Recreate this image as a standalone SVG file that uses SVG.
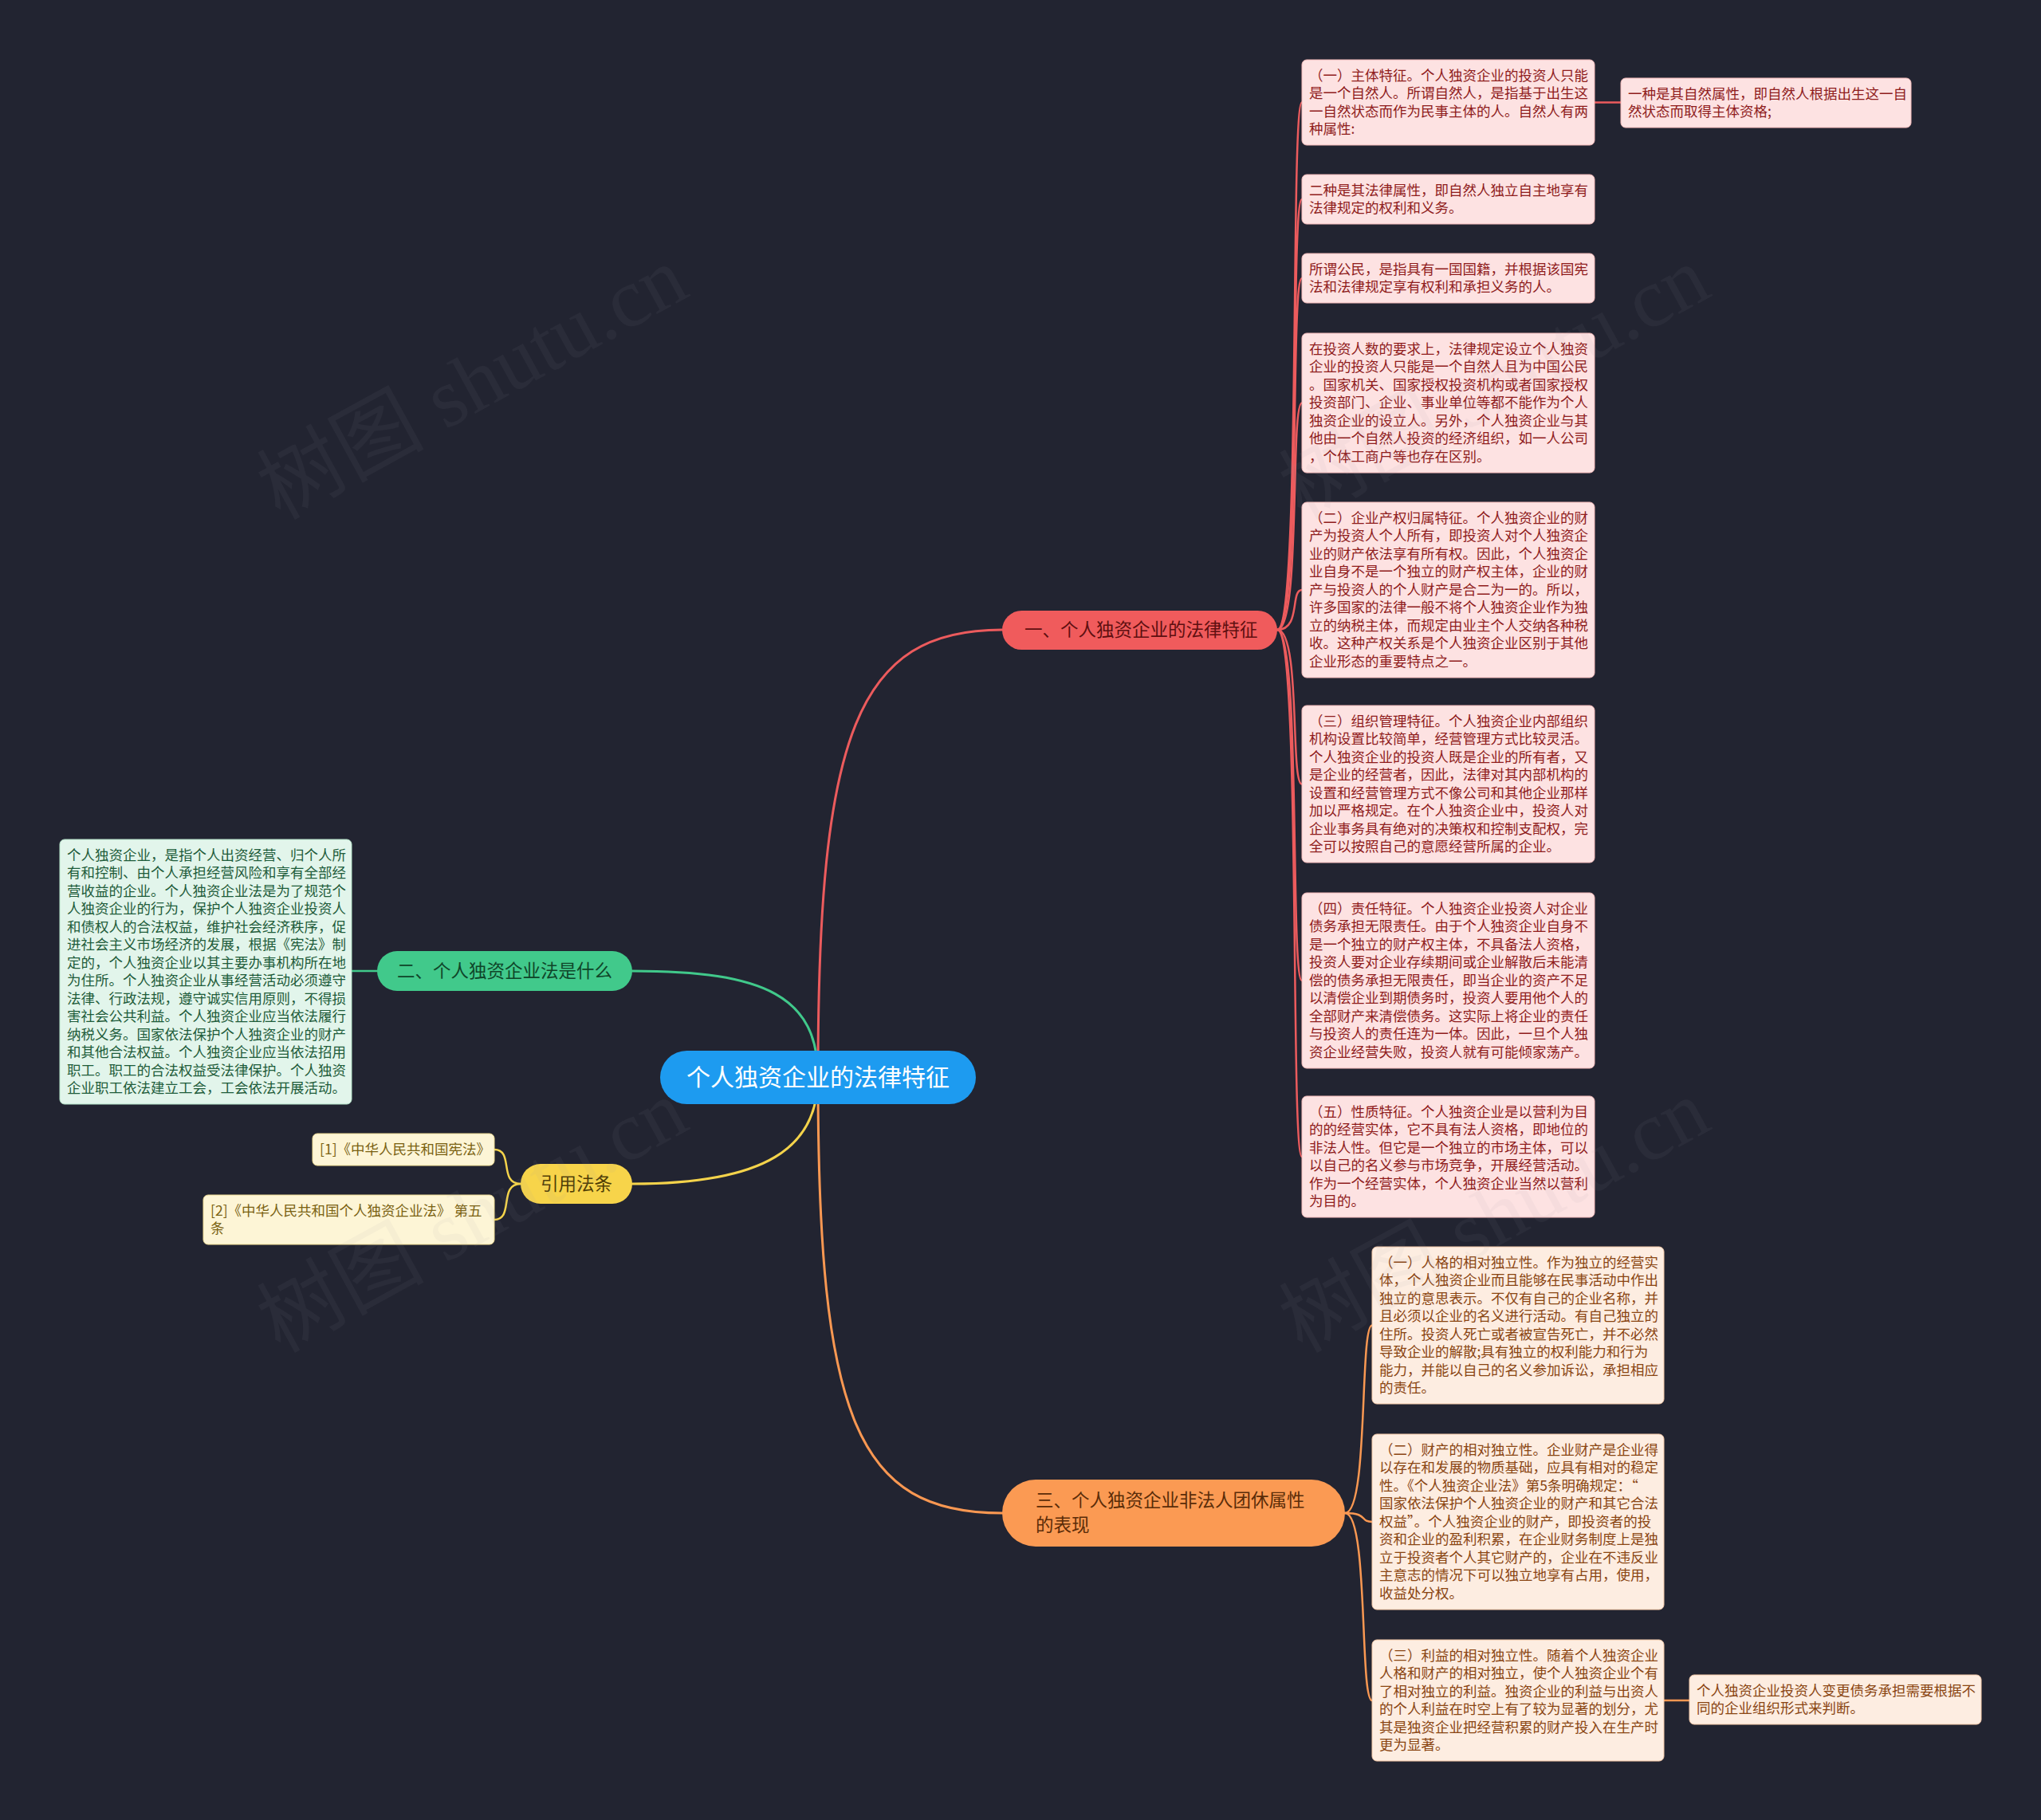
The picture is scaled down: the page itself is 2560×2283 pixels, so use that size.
<svg xmlns="http://www.w3.org/2000/svg" width="2560" height="2283" viewBox="0 0 2560 2283">
<style>
text{font-family:"Noto Sans CJK SC","Noto Sans",sans-serif;}
.lf{font-size:17.5px;}
.red rect{fill:#fde2e2;stroke:#f3b9b9;stroke-width:1;}
.red text{fill:#8f1c1c;}
.org rect{fill:#fdede1;stroke:#f5c9a8;stroke-width:1;}
.org text{fill:#8a4512;}
.grn rect{fill:#e2f5eb;stroke:#b5e3c9;stroke-width:1;}
.grn text{fill:#1e5c3a;}
.yel rect{fill:#fdf5d6;stroke:#efdc94;stroke-width:1;}
.yel text{fill:#7a6212;}
.br{font-size:22.5px;}
.c{fill:none;stroke-linecap:round;}
.cr{stroke:#ec5b5d;}
.cg{stroke:#41c98b;}
.cy{stroke:#f4d34b;}
.co{stroke:#fa9852;}
.wm{font-size:105px;fill:#9a9aa6;opacity:0.065;font-family:"Liberation Serif","Noto Sans CJK SC",serif;}
</style>
<rect x="0" y="0" width="2560" height="2283" fill="#222431"/>

<g id="connectors">
  <path class="c cr" stroke-width="3" d="M1026,1351 C1026,920 1075,790 1257,790"/>
  <path class="c cg" stroke-width="3" d="M1026,1351 C1026,1250 960,1218 793,1218"/>
  <path class="c cy" stroke-width="3" d="M1026,1351 C1026,1440 960,1485 793,1485"/>
  <path class="c co" stroke-width="3" d="M1026,1351 C1026,1780 1075,1898 1257,1898"/>
  <g class="c cr" stroke-width="2.5">
    <path d="M1602,790 C1632,790 1618,128.5 1633,128.5"/>
    <path d="M1602,790 C1632,790 1618,250 1633,250"/>
    <path d="M1602,790 C1632,790 1618,349 1633,349"/>
    <path d="M1602,790 C1632,790 1618,505.5 1633,505.5"/>
    <path d="M1602,790 C1632,790 1618,740 1633,740"/>
    <path d="M1602,790 C1632,790 1618,983.5 1633,983.5"/>
    <path d="M1602,790 C1632,790 1618,1230 1633,1230"/>
    <path d="M1602,790 C1632,790 1618,1451 1633,1451"/>
    <path d="M2000,128.5 L2033,128.5"/>
  </g>
  <g class="c co" stroke-width="2.5">
    <path d="M1687,1898 C1717,1898 1705,1662.5 1721,1662.5"/>
    <path d="M1687,1898 C1717,1898 1705,1909 1721,1909"/>
    <path d="M1687,1898 C1717,1898 1705,2133 1721,2133"/>
    <path d="M2087,2133 L2119,2133"/>
  </g>
  <path class="c cg" stroke-width="2.5" d="M473,1218 L441,1218"/>
  <g class="c cy" stroke-width="2.5">
    <path d="M653,1485 C625,1485 645,1442 620,1442"/>
    <path d="M653,1485 C625,1485 645,1530 620,1530"/>
  </g>
</g>

<g id="center">
  <rect x="828" y="1318" width="396" height="67" rx="33.5" fill="#1d9bf0"/>
  <text x="1026" y="1362" font-size="30" fill="#ffffff" text-anchor="middle">个人独资企业的法律特征</text>
</g>

<g id="branch1">
  <rect x="1257" y="766" width="345" height="49" rx="24.5" fill="#f05b5c"/>
  <text class="br" x="1285" y="798" fill="#5e0f10">一、个人独资企业的法律特征</text>
</g>
<g id="branch2">
  <rect x="473" y="1193" width="320" height="50" rx="25" fill="#41c98b"/>
  <text class="br" x="633" y="1226" fill="#0f4529" text-anchor="middle">二、个人独资企业法是什么</text>
</g>
<g id="branch3">
  <rect x="653" y="1460" width="140" height="50" rx="25" fill="#f7d44a"/>
  <text class="br" x="723" y="1493" fill="#4f3d05" text-anchor="middle">引用法条</text>
</g>
<g id="branch4">
  <rect x="1257" y="1856" width="430" height="84" rx="42" fill="#fb9a53"/>
  <text class="br" x="1299" y="1890" fill="#5a2c08"><tspan x="1299">三、个人独资企业非法人团休属性</tspan><tspan x="1299" dy="31">的表现</tspan></text>
</g>

<g id="r1" class="red">
  <rect x="1633" y="75" width="367" height="107" rx="6"/>
  <text class="lf" y="100.5"><tspan x="1642">（一）主体特征。个人独资企业的投资人只能</tspan><tspan x="1642" dy="22.5">是一个自然人。所谓自然人，是指基于出生这</tspan><tspan x="1642" dy="22.5">一自然状态而作为民事主体的人。自然人有两</tspan><tspan x="1642" dy="22.5">种属性:</tspan></text>
</g>
<g id="r1a" class="red">
  <rect x="2033" y="98" width="364" height="62" rx="6"/>
  <text class="lf" y="123.5"><tspan x="2042">一种是其自然属性，即自然人根据出生这一自</tspan><tspan x="2042" dy="22.5">然状态而取得主体资格;</tspan></text>
</g>
<g id="r2" class="red">
  <rect x="1633" y="219" width="367" height="62" rx="6"/>
  <text class="lf" y="244.5"><tspan x="1642">二种是其法律属性，即自然人独立自主地享有</tspan><tspan x="1642" dy="22.5">法律规定的权利和义务。</tspan></text>
</g>
<g id="r3" class="red">
  <rect x="1633" y="318" width="367" height="62" rx="6"/>
  <text class="lf" y="343.5"><tspan x="1642">所谓公民，是指具有一国国籍，并根据该国宪</tspan><tspan x="1642" dy="22.5">法和法律规定享有权利和承担义务的人。</tspan></text>
</g>
<g id="r4" class="red">
  <rect x="1633" y="418" width="367" height="175" rx="6"/>
  <text class="lf" y="443.5"><tspan x="1642">在投资人数的要求上，法律规定设立个人独资</tspan><tspan x="1642" dy="22.5">企业的投资人只能是一个自然人且为中国公民</tspan><tspan x="1642" dy="22.5">。国家机关、国家授权投资机构或者国家授权</tspan><tspan x="1642" dy="22.5">投资部门、企业、事业单位等都不能作为个人</tspan><tspan x="1642" dy="22.5">独资企业的设立人。另外，个人独资企业与其</tspan><tspan x="1642" dy="22.5">他由一个自然人投资的经济组织，如一人公司</tspan><tspan x="1642" dy="22.5">，个体工商户等也存在区别。</tspan></text>
</g>
<g id="r5" class="red">
  <rect x="1633" y="630" width="367" height="220" rx="6"/>
  <text class="lf" y="655.5"><tspan x="1642">（二）企业产权归属特征。个人独资企业的财</tspan><tspan x="1642" dy="22.5">产为投资人个人所有，即投资人对个人独资企</tspan><tspan x="1642" dy="22.5">业的财产依法享有所有权。因此，个人独资企</tspan><tspan x="1642" dy="22.5">业自身不是一个独立的财产权主体，企业的财</tspan><tspan x="1642" dy="22.5">产与投资人的个人财产是合二为一的。所以，</tspan><tspan x="1642" dy="22.5">许多国家的法律一般不将个人独资企业作为独</tspan><tspan x="1642" dy="22.5">立的纳税主体，而规定由业主个人交纳各种税</tspan><tspan x="1642" dy="22.5">收。这种产权关系是个人独资企业区别于其他</tspan><tspan x="1642" dy="22.5">企业形态的重要特点之一。</tspan></text>
</g>
<g id="r6" class="red">
  <rect x="1633" y="885" width="367" height="197" rx="6"/>
  <text class="lf" y="910.5"><tspan x="1642">（三）组织管理特征。个人独资企业内部组织</tspan><tspan x="1642" dy="22.5">机构设置比较简单，经营管理方式比较灵活。</tspan><tspan x="1642" dy="22.5">个人独资企业的投资人既是企业的所有者，又</tspan><tspan x="1642" dy="22.5">是企业的经营者，因此，法律对其内部机构的</tspan><tspan x="1642" dy="22.5">设置和经营管理方式不像公司和其他企业那样</tspan><tspan x="1642" dy="22.5">加以严格规定。在个人独资企业中，投资人对</tspan><tspan x="1642" dy="22.5">企业事务具有绝对的决策权和控制支配权，完</tspan><tspan x="1642" dy="22.5">全可以按照自己的意愿经营所属的企业。</tspan></text>
</g>
<g id="r7" class="red">
  <rect x="1633" y="1120" width="367" height="220" rx="6"/>
  <text class="lf" y="1145.5"><tspan x="1642">（四）责任特征。个人独资企业投资人对企业</tspan><tspan x="1642" dy="22.5">债务承担无限责任。由于个人独资企业自身不</tspan><tspan x="1642" dy="22.5">是一个独立的财产权主体，不具备法人资格，</tspan><tspan x="1642" dy="22.5">投资人要对企业存续期间或企业解散后未能清</tspan><tspan x="1642" dy="22.5">偿的债务承担无限责任，即当企业的资产不足</tspan><tspan x="1642" dy="22.5">以清偿企业到期债务时，投资人要用他个人的</tspan><tspan x="1642" dy="22.5">全部财产来清偿债务。这实际上将企业的责任</tspan><tspan x="1642" dy="22.5">与投资人的责任连为一体。因此，一旦个人独</tspan><tspan x="1642" dy="22.5">资企业经营失败，投资人就有可能倾家荡产。</tspan></text>
</g>
<g id="r8" class="red">
  <rect x="1633" y="1375" width="367" height="152" rx="6"/>
  <text class="lf" y="1400.5"><tspan x="1642">（五）性质特征。个人独资企业是以营利为目</tspan><tspan x="1642" dy="22.5">的的经营实体，它不具有法人资格，即地位的</tspan><tspan x="1642" dy="22.5">非法人性。但它是一个独立的市场主体，可以</tspan><tspan x="1642" dy="22.5">以自己的名义参与市场竞争，开展经营活动。</tspan><tspan x="1642" dy="22.5">作为一个经营实体，个人独资企业当然以营利</tspan><tspan x="1642" dy="22.5">为目的。</tspan></text>
</g>

<g id="o1" class="org">
  <rect x="1721" y="1564" width="366" height="197" rx="6"/>
  <text class="lf" y="1589.5"><tspan x="1730">（一）人格的相对独立性。作为独立的经营实</tspan><tspan x="1730" dy="22.5">体，个人独资企业而且能够在民事活动中作出</tspan><tspan x="1730" dy="22.5">独立的意思表示。不仅有自己的企业名称，并</tspan><tspan x="1730" dy="22.5">且必须以企业的名义进行活动。有自己独立的</tspan><tspan x="1730" dy="22.5">住所。投资人死亡或者被宣告死亡，并不必然</tspan><tspan x="1730" dy="22.5">导致企业的解散;具有独立的权利能力和行为</tspan><tspan x="1730" dy="22.5">能力，并能以自己的名义参加诉讼，承担相应</tspan><tspan x="1730" dy="22.5">的责任。</tspan></text>
</g>
<g id="o2" class="org">
  <rect x="1721" y="1799" width="366" height="220" rx="6"/>
  <text class="lf" y="1824.5"><tspan x="1730">（二）财产的相对独立性。企业财产是企业得</tspan><tspan x="1730" dy="22.5">以存在和发展的物质基础，应具有相对的稳定</tspan><tspan x="1730" dy="22.5">性。《个人独资企业法》第5条明确规定：“</tspan><tspan x="1730" dy="22.5">国家依法保护个人独资企业的财产和其它合法</tspan><tspan x="1730" dy="22.5">权益”。个人独资企业的财产，即投资者的投</tspan><tspan x="1730" dy="22.5">资和企业的盈利积累，在企业财务制度上是独</tspan><tspan x="1730" dy="22.5">立于投资者个人其它财产的，企业在不违反业</tspan><tspan x="1730" dy="22.5">主意志的情况下可以独立地享有占用，使用，</tspan><tspan x="1730" dy="22.5">收益处分权。</tspan></text>
</g>
<g id="o3" class="org">
  <rect x="1721" y="2057" width="366" height="152" rx="6"/>
  <text class="lf" y="2082.5"><tspan x="1730">（三）利益的相对独立性。随着个人独资企业</tspan><tspan x="1730" dy="22.5">人格和财产的相对独立，使个人独资企业个有</tspan><tspan x="1730" dy="22.5">了相对独立的利益。独资企业的利益与出资人</tspan><tspan x="1730" dy="22.5">的个人利益在时空上有了较为显著的划分，尤</tspan><tspan x="1730" dy="22.5">其是独资企业把经营积累的财产投入在生产时</tspan><tspan x="1730" dy="22.5">更为显著。</tspan></text>
</g>
<g id="o3a" class="org">
  <rect x="2119" y="2101" width="366" height="62" rx="6"/>
  <text class="lf" y="2126.5"><tspan x="2128">个人独资企业投资人变更债务承担需要根据不</tspan><tspan x="2128" dy="22.5">同的企业组织形式来判断。</tspan></text>
</g>

<g id="g1" class="grn">
  <rect x="75" y="1053" width="366" height="332" rx="6"/>
  <text class="lf" y="1078.5"><tspan x="84">个人独资企业，是指个人出资经营、归个人所</tspan><tspan x="84" dy="22.5">有和控制、由个人承担经营风险和享有全部经</tspan><tspan x="84" dy="22.5">营收益的企业。个人独资企业法是为了规范个</tspan><tspan x="84" dy="22.5">人独资企业的行为，保护个人独资企业投资人</tspan><tspan x="84" dy="22.5">和债权人的合法权益，维护社会经济秩序，促</tspan><tspan x="84" dy="22.5">进社会主义市场经济的发展，根据《宪法》制</tspan><tspan x="84" dy="22.5">定的，个人独资企业以其主要办事机构所在地</tspan><tspan x="84" dy="22.5">为住所。个人独资企业从事经营活动必须遵守</tspan><tspan x="84" dy="22.5">法律、行政法规，遵守诚实信用原则，不得损</tspan><tspan x="84" dy="22.5">害社会公共利益。个人独资企业应当依法履行</tspan><tspan x="84" dy="22.5">纳税义务。国家依法保护个人独资企业的财产</tspan><tspan x="84" dy="22.5">和其他合法权益。个人独资企业应当依法招用</tspan><tspan x="84" dy="22.5">职工。职工的合法权益受法律保护。个人独资</tspan><tspan x="84" dy="22.5">企业职工依法建立工会，工会依法开展活动。</tspan></text>
</g>

<g id="y1" class="yel">
  <rect x="392" y="1422" width="228" height="40" rx="6"/>
  <text class="lf" x="401" y="1447.5">[1]《中华人民共和国宪法》</text>
</g>
<g id="y2" class="yel">
  <rect x="255" y="1499" width="365" height="62" rx="6"/>
  <text class="lf" y="1524.5"><tspan x="264">[2]《中华人民共和国个人独资企业法》 第五</tspan><tspan x="264" dy="22.5">条</tspan></text>
</g>

<g id="watermark">
  <text class="wm" transform="translate(351,653) rotate(-28.7)">树图 shutu.cn</text>
  <text class="wm" transform="translate(1633,653) rotate(-28.7)">树图 shutu.cn</text>
  <text class="wm" transform="translate(351,1698) rotate(-28.7)">树图 shutu.cn</text>
  <text class="wm" transform="translate(1633,1698) rotate(-28.7)">树图 shutu.cn</text>
</g>
</svg>
